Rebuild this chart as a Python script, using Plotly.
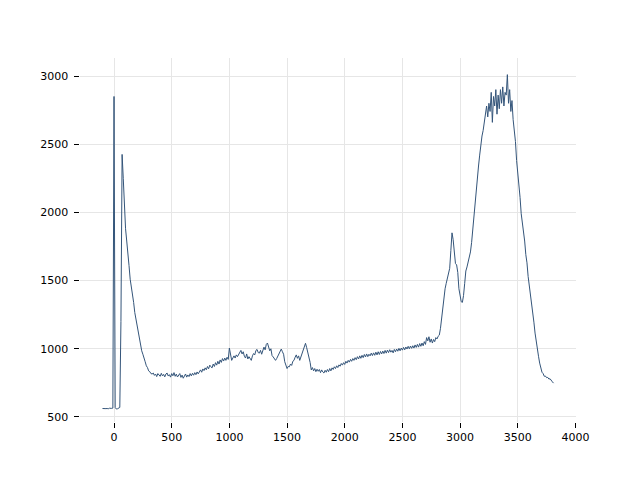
import plotly.graph_objects as go

x_start = -100
x_step = 10

values = [
    # -100 .. -10
    562, 560, 563, 561, 562, 560, 564, 562, 563, 565,
    # 0 .. 350
    2850, 570, 558, 560, 565, 570, 1200, 2425, 2250, 2050,
    1880, 1790, 1670, 1610, 1510, 1460, 1385, 1340, 1265, 1220,
    1155, 1115, 1060, 1030, 985, 960, 920, 905, 875, 862,
    838, 832, 818, 815, 822, 805,
    # 360 .. 990
    815, 796, 818, 804, 798, 820, 801, 812, 794, 815,
    822, 800, 810, 792, 818, 802, 825, 798, 814, 793,
    810, 818, 790, 807, 784, 802, 815, 792, 808, 796,
    818, 801, 820, 806, 825, 810, 830, 816, 838, 845,
    828, 852, 840, 860, 846, 870, 853, 880, 868, 860,
    888, 870, 898, 880, 908, 888, 918, 900, 928, 910,
    932, 915, 938, 922,
    # 1000 .. 1490
    1005, 940, 915, 932, 948, 932, 955, 942, 962, 972,
    988, 962, 978, 945, 932, 962, 925, 942, 922, 915,
    948, 965, 955, 988, 995, 972, 968, 988, 960, 992,
    1012, 992, 1032, 1042, 1002, 985, 1000, 950, 940, 928,
    915, 928, 948, 965, 988, 998, 978, 960, 905, 870,
    # 1500 .. 1990
    855, 870, 868, 888, 878, 908, 915, 938, 955, 930,
    948, 915, 942, 965, 992, 1025, 1040, 1008, 975, 945,
    900, 845, 862, 838, 855, 832, 850, 835, 848, 825,
    845, 830, 822, 842, 828, 848, 832, 855, 838, 860,
    848, 868, 855, 875, 862, 882, 872, 892, 880, 898,
    # 2000 .. 2490
    885, 908, 895, 915, 902, 922, 908, 928, 915, 935,
    920, 942, 925, 948, 930, 952, 935, 958, 940, 962,
    942, 960, 948, 968, 950, 970, 952, 975, 955, 978,
    958, 980, 962, 983, 965, 988, 968, 990, 972, 993,
    975, 988, 970, 995, 978, 998, 982, 1003, 985, 1005,
    # 2500 .. 2990
    990, 1010, 992, 1013, 998, 1018, 1000, 1020, 1003, 1022,
    1005, 1028, 1010, 1032, 1012, 1038, 1018, 1042, 1022, 1052,
    1032, 1082, 1058, 1088, 1048, 1072, 1042, 1068, 1052, 1082,
    1072, 1092, 1100, 1150, 1230, 1290, 1350, 1440, 1480, 1520,
    1560, 1590, 1720, 1850, 1800, 1700, 1625, 1615, 1560, 1440,
    # 3000 .. 3490
    1400, 1345, 1340, 1390, 1480, 1570, 1600, 1640, 1660, 1710,
    1780, 1880, 1990, 2060, 2180, 2250, 2340, 2420, 2500, 2560,
    2600, 2650, 2720, 2780, 2700, 2800, 2740, 2880, 2660, 2850,
    2780, 2900, 2720, 2860, 2760, 2900, 2800, 2920, 2780, 2880,
    2860, 3010, 2800, 2900, 2740, 2820, 2680, 2600, 2520, 2380,
    # 3500 .. 3810
    2300, 2180, 2110, 1990, 1930, 1840, 1790, 1690, 1630, 1530,
    1470, 1390, 1345, 1255, 1195, 1115, 1045, 985, 945, 895,
    862, 828, 818, 798, 800, 788, 790, 778, 780, 765,
    758, 748,
]

x_values = [x_start + i * x_step for i in range(len(values))]

x_ticks = [0, 500, 1000, 1500, 2000, 2500, 3000, 3500, 4000]
y_ticks = [500, 1000, 1500, 2000, 2500, 3000]

fig = go.Figure()
fig.add_trace(go.Scatter(
    x=x_values, y=values, mode="lines",
    line=dict(color="#34557a", width=1),
    showlegend=False,
))

axis_common = dict(
    showgrid=True, gridcolor="#e6e6e6",
    zeroline=False, showline=False, automargin=False,
    ticks="outside", ticklen=5, tickwidth=1, tickcolor="black",
    tickfont=dict(family="DejaVu Sans", size=11, color="#000000"),
)

fig.update_layout(
    width=640, height=480,
    margin=dict(l=72, r=72, t=50, b=66, pad=0),
    paper_bgcolor="white", plot_bgcolor="white",
    xaxis=dict(range=[-295, 4005], tickvals=x_ticks,
               ticktext=[str(v) for v in x_ticks], **axis_common),
    yaxis=dict(range=[463, 3132], tickvals=y_ticks,
               ticktext=[str(v) + " " for v in y_ticks], **axis_common),
)

fig.write_html("out.html")
